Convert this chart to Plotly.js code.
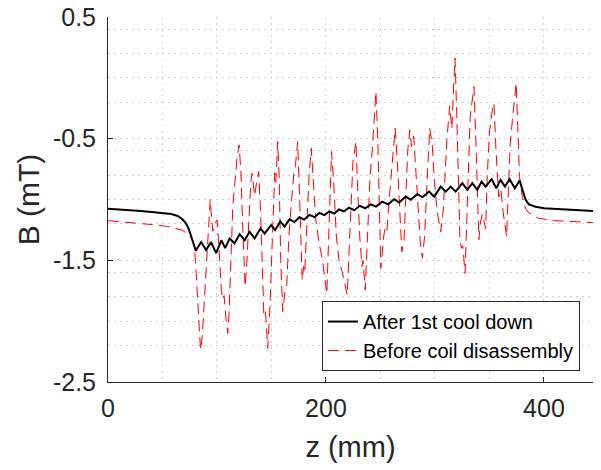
<!DOCTYPE html>
<html>
<head>
<meta charset="utf-8">
<script src="https://cdn.plot.ly/plotly-3.0.1.min.js"></script>
<style>
  html, body { margin: 0; padding: 0; background: #fff; }
  #chart { width: 601px; height: 470px; }
</style>
</head>
<body>
<div id="chart"></div>
<script>
// ---- Data ----
const seriesNames = ["After 1st cool down", "Before coil disassembly"];
const xTickVals = [0, 200, 400];
const xTickText = ["0", "200", "400"];
const yTickVals = [-2.5, -1.5, -0.5, 0.5];
const yTickText = ["-2.5", "-1.5", "-0.5", "0.5"];
const xMinorVals = [50, 100, 150, 250, 300, 350];
const yMinorVals = [-2.2, -2.0, -1.8, -1.6, -1.2, -1.0, -0.8, -0.6, -0.2, 0, 0.2, 0.4];

// After 1st cool down (black, solid)
const zAfter = [
  0, 10, 20, 30, 40, 50, 58, 64, 68, 71,
  73.5, 75.5, 77.5, 79, 80.5,
  85.5, 90, 94.5, 99.2, 104, 107.5, 111.6, 116, 120.8, 125.4,
  129.9, 134.5, 140, 143.6, 149.7, 153.3, 158.2, 161.9, 166.5, 171,
  175.6, 180, 184.8, 189.5, 194, 198.5, 203, 207.5, 212, 216.5,
  221, 226, 231, 236, 241, 246, 251.5, 257, 262.6, 267.1,
  273.2, 277.8, 283.9, 288.5, 294.6, 299.2, 305.3, 309.9, 314.4, 319,
  325.1, 329.7, 334.3, 338.8, 342.8, 346.4, 352, 356.3, 360.2, 364.2,
  368.5, 373.3, 377.6,
  380, 383.1, 386.1, 392.2, 400, 416.6, 430, 445
];
const bAfter = [
  -1.075, -1.08, -1.088, -1.095, -1.103, -1.11, -1.12, -1.135, -1.16, -1.19,
  -1.23, -1.28, -1.34, -1.39, -1.42,
  -1.35, -1.415, -1.35, -1.44, -1.335, -1.40, -1.32, -1.36, -1.285, -1.335,
  -1.265, -1.32, -1.237, -1.28, -1.21, -1.25, -1.18, -1.222, -1.163, -1.185,
  -1.146, -1.165, -1.127, -1.145, -1.11, -1.128, -1.098, -1.115, -1.082, -1.098,
  -1.068, -1.088, -1.052, -1.072, -1.04, -1.058, -1.018, -1.04, -0.998, -1.025,
  -0.976, -1.003, -0.954, -0.982, -0.935, -0.976, -0.894, -0.935, -0.894, -0.935,
  -0.866, -0.921, -0.866, -0.921, -0.853, -0.894, -0.833, -0.907, -0.839, -0.894,
  -0.833, -0.907, -0.844,
  -0.92, -1.0, -1.04, -1.06, -1.072, -1.08, -1.09, -1.095
];

// Before coil disassembly (red, dashed)
const zBefore = [
  0, 15, 30, 45, 55, 62, 68, 72, 75, 77.8,
  79.5, 81, 83, 84.9, 86.5, 88, 90, 91.5, 93.8, 95,
  96.2, 98, 100.1, 102, 104, 105.5, 106.5, 108.5, 109.9, 111,
  113, 114.5, 116.5, 118.5, 120.3, 122, 123.5, 125.8, 127.5, 129.5,
  131, 132.2, 134.5, 136, 138.3, 140, 141.5, 143, 144.5, 146.5,
  148.5, 150.5, 152, 153, 154, 155.7, 157, 158.5, 160.3, 162.5,
  164, 166, 168.5, 170.5, 172, 174, 175.5, 177, 178.2, 179.5,
  180.5, 182.5, 184.5, 186.5, 188.5, 190.5, 193.5, 196.9, 198.5, 200.8,
  202.5, 204, 205.1, 207, 209.5, 212, 215, 219.5, 221.5, 223.5,
  225, 226, 227.5, 229, 231, 233, 234, 236, 238.5, 240.5,
  242.5, 244.5, 245.8, 247.5, 249, 250.3, 251.5, 253, 254.5, 256,
  258, 260.5, 263.5, 265.5, 267.5, 269.6, 271.5, 273.5, 275, 276.9,
  278.5, 280.5, 282.5, 284.5, 286.5, 288.5, 290.5, 292.5, 295.2, 297.5,
  299.5, 302, 305.3, 307.5, 309, 311, 313.5, 315.5, 317, 318.4,
  320, 321.5, 323, 324.5, 325.5, 327.6, 329.5, 331, 332.3, 334,
  335.8, 337.5, 339, 340.3, 341.5, 343.4, 345, 346.5, 348, 350,
  352, 354.1, 356, 357.5, 358.5, 359.5, 360.5, 362.5, 365.7, 367,
  369, 371, 374.5, 376, 377.5, 380, 383, 386, 390, 395,
  410, 425, 445
];
const bBefore = [
  -1.174, -1.185, -1.198, -1.21, -1.222, -1.235, -1.252, -1.275, -1.30, -1.335,
  -1.41, -1.62, -1.95, -2.238, -2.12, -1.88, -1.58, -1.32, -1.0, -1.15,
  -1.26, -1.2, -1.168, -1.42, -1.75, -1.82, -1.79, -2.0, -2.10, -1.95,
  -1.4, -1.06, -0.85, -0.65, -0.551, -0.78, -1.2, -1.717, -1.5, -1.1,
  -0.86, -0.784, -0.97, -0.88, -0.77, -1.1, -1.6, -1.95, -1.92, -2.224,
  -1.9, -1.4, -0.92, -0.78, -0.86, -0.524, -0.8, -1.5, -1.92, -1.75,
  -1.7, -1.3, -1.0, -0.79, -0.72, -0.524, -0.9, -1.4, -1.662, -1.55,
  -1.6, -1.2, -0.8, -0.578, -0.85, -1.15, -1.35, -1.5, -1.62, -1.775,
  -1.3, -0.8, -0.606, -0.85, -1.3, -1.5, -1.6, -1.785, -1.4, -0.95,
  -0.64, -0.62, -0.524, -0.9, -1.3, -1.55, -1.5, -1.744, -1.2, -0.8,
  -0.59, -0.3, -0.112, -0.5, -1.2, -1.566, -1.45, -1.3, -1.22, -1.25,
  -1.0, -0.7, -0.414, -0.7, -1.1, -1.43, -1.35, -0.9, -0.6, -0.428,
  -0.565, -0.48, -0.75, -1.1, -1.35, -1.484, -1.3, -0.9, -0.414, -0.55,
  -0.85, -1.1, -1.265, -1.1, -0.85, -0.5, -0.23, -0.42, -0.1, 0.163,
  -0.3, -0.85, -1.35, -1.4, -1.38, -1.607, -1.1, -0.6, -0.32, -0.2,
  -0.071, -0.5, -1.0, -1.33, -1.2, -1.12, -1.18, -1.24, -0.8, -0.45,
  -0.3, -0.208, -0.6, -0.9, -0.98, -0.95, -0.92, -1.1, -1.306, -1.0,
  -0.55, -0.35, -0.043, -0.4, -0.81, -0.97, -1.07, -1.11, -1.13, -1.154,
  -1.174, -1.182, -1.19
];

// ---- Chart ----
const FONT = "Liberation Sans, Arial, Helvetica, sans-serif";
const AXIS = "#262626";
const GRID = "#cfcfcf";
const GRIDDASH = "1.5px,4.5px";

const traces = [
  {
    x: zBefore, y: bBefore, name: seriesNames[1], type: "scatter", mode: "lines",
    line: { color: "#ff0000", width: 1, dash: "11px,6px" },
    legendrank: 2
  },
  {
    x: zAfter, y: bAfter, name: seriesNames[0], type: "scatter", mode: "lines",
    line: { color: "#000000", width: 2 },
    legendrank: 1
  }
];

const layout = {
  width: 601, height: 470,
  margin: { l: 108, r: 8, t: 17, b: 88 },
  paper_bgcolor: "#ffffff", plot_bgcolor: "#ffffff",
  font: { family: FONT, color: AXIS },
  showlegend: true,
  legend: {
    x: 0.973, xanchor: "right", y: 0.03, yanchor: "bottom",
    bgcolor: "#ffffff", bordercolor: AXIS, borderwidth: 1,
    font: { family: FONT, size: 20, color: "#000000" },
    tracegroupgap: 0
  },
  xaxis: {
    range: [0, 445], tickmode: "array", tickvals: xTickVals, ticktext: xTickText,
    ticks: "inside", ticklen: 5, tickcolor: AXIS, tickwidth: 1,
    showline: true, linecolor: AXIS, linewidth: 1, mirror: false,
    showgrid: true, gridcolor: GRID, griddash: GRIDDASH, gridwidth: 1,
    zeroline: false,
    tickfont: { family: FONT, size: 25, color: AXIS },
    ticklabelstandoff: 4,
    minor: { tickmode: "array", tickvals: xMinorVals, showgrid: true, gridcolor: GRID, griddash: GRIDDASH, gridwidth: 1, ticks: "" },
    title: { text: "z (mm)", font: { family: FONT, size: 29, color: AXIS }, standoff: 15 }
  },
  yaxis: {
    range: [-2.5, 0.5], tickmode: "array", tickvals: yTickVals, ticktext: yTickText,
    ticks: "inside", ticklen: 5, tickcolor: AXIS, tickwidth: 1,
    showline: true, linecolor: AXIS, linewidth: 1, mirror: false,
    showgrid: true, gridcolor: GRID, griddash: GRIDDASH, gridwidth: 1,
    zeroline: false,
    tickfont: { family: FONT, size: 25, color: AXIS },
    ticklabelstandoff: 6,
    minor: { tickmode: "array", tickvals: yMinorVals, showgrid: true, gridcolor: GRID, griddash: GRIDDASH, gridwidth: 1, ticks: "" },
    title: { text: "B (mT)", font: { family: FONT, size: 30, color: AXIS }, standoff: 4 }
  }
};

Plotly.newPlot("chart", traces, layout, { displayModeBar: false, staticPlot: true });
</script>
</body>
</html>
